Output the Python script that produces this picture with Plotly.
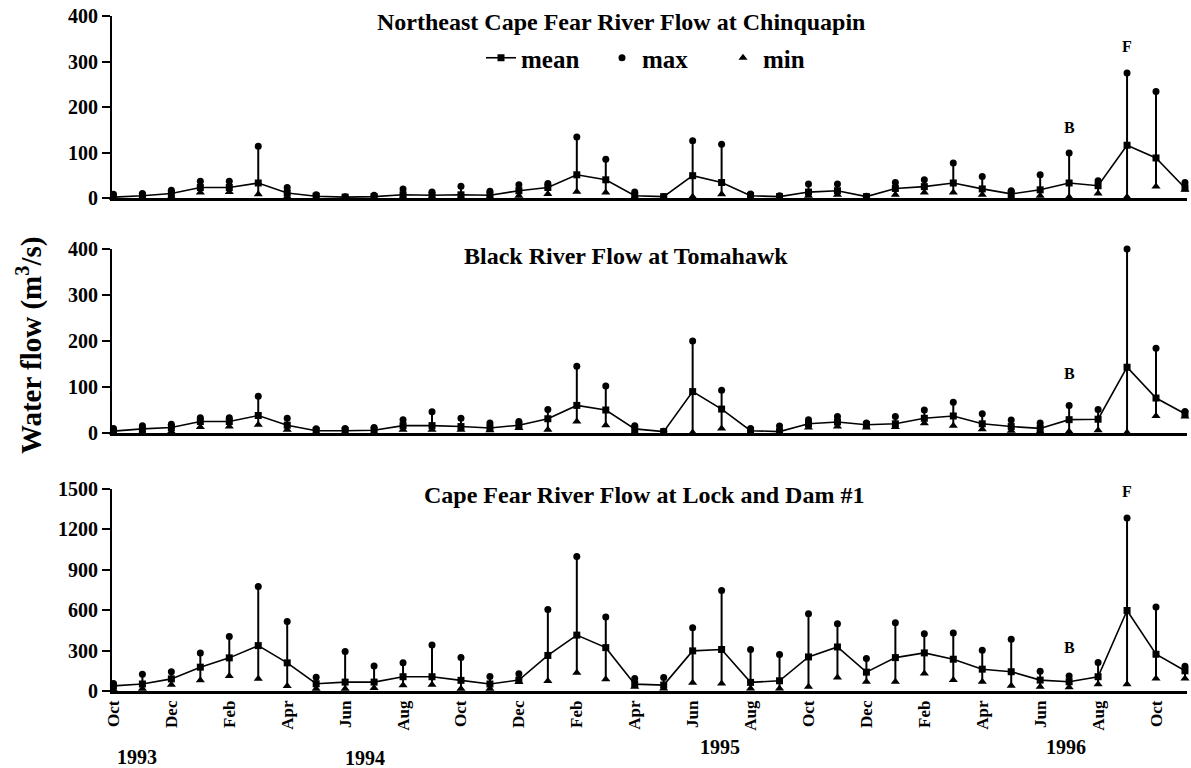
import plotly.graph_objects as go

months = ["Oct 1993", "Nov 1993", "Dec 1993", "Jan 1994", "Feb 1994", "Mar 1994", "Apr 1994",
          "May 1994", "Jun 1994", "Jul 1994", "Aug 1994", "Sep 1994", "Oct 1994", "Nov 1994",
          "Dec 1994", "Jan 1995", "Feb 1995", "Mar 1995", "Apr 1995", "May 1995", "Jun 1995",
          "Jul 1995", "Aug 1995", "Sep 1995", "Oct 1995", "Nov 1995", "Dec 1995", "Jan 1996",
          "Feb 1996", "Mar 1996", "Apr 1996", "May 1996", "Jun 1996", "Jul 1996", "Aug 1996",
          "Sep 1996", "Oct 1996", "Nov 1996"]

# Northeast Cape Fear River at Chinquapin (m3/s)
ne_mean = [2, 5, 10, 23, 23, 33, 11, 4, 2, 3, 7, 6, 7, 6, 16, 23, 51, 40, 5, 3, 49, 34, 5, 3,
           13, 16, 3, 21, 25, 33, 20, 9, 18, 33, 27, 116, 88, 22]
ne_max = [8, 10, 17, 37, 37, 114, 23, 7, 3, 6, 20, 13, 26, 15, 29, 32, 134, 85, 13, 3, 126, 118, 9, 5,
          31, 31, 4, 34, 40, 77, 47, 16, 51, 99, 38, 275, 234, 34]
ne_min = [0.5, 1, 3, 12, 13, 8, 3, 1, 1, 1, 2, 2, 2, 2, 5, 9, 14, 12, 2, 1, 3, 8, 1, 1,
          5, 7, 1, 7, 12, 12, 7, 2, 5, 2, 10, 2, 25, 18]

# Black River at Tomahawk (m3/s)
bl_mean = [4, 9, 12, 25, 25, 38, 17, 5, 5, 6, 16, 16, 14, 11, 17, 31, 60, 50, 9, 3, 90, 52, 5, 3,
           20, 24, 18, 20, 32, 37, 20, 14, 10, 29, 30, 143, 76, 42]
bl_max = [10, 16, 19, 33, 33, 80, 32, 9, 10, 12, 29, 46, 32, 22, 25, 51, 145, 102, 16, 4, 200, 93, 10, 15,
          29, 36, 22, 36, 50, 67, 42, 28, 22, 60, 51, 400, 184, 47]
bl_min = [1, 2, 3, 13, 14, 18, 7, 1, 1, 1, 7, 7, 7, 6, 11, 7, 25, 17, 2, 1, 1, 10, 1, 1,
          12, 14, 12, 13, 21, 16, 8, 5, 3, 3, 6, 1, 37, 36]

# Cape Fear River at Lock and Dam #1 (m3/s)
cf_mean = [38, 52, 90, 177, 246, 337, 209, 54, 66, 66, 106, 106, 79, 52, 81, 264, 415, 322, 51, 44,
           298, 308, 64, 76, 253, 327, 140, 248, 283, 236, 162, 143, 81, 69, 106, 598, 273, 150]
cf_max = [55, 125, 143, 283, 404, 776, 517, 103, 293, 185, 209, 342, 248, 108, 128, 605, 998, 549, 93, 101,
          470, 746, 308, 271, 574, 500, 241, 507, 426, 431, 303, 384, 147, 111, 212, 1285, 623, 184]
cf_min = [12, 17, 47, 79, 111, 91, 37, 17, 17, 22, 42, 47, 17, 17, 66, 74, 135, 88, 32, 19,
          61, 56, 19, 19, 32, 101, 69, 69, 130, 81, 69, 39, 32, 27, 51, 51, 93, 93]

titles = ["Northeast Cape Fear River Flow at Chinquapin",
          "Black River Flow at Tomahawk",
          "Cape Fear River Flow at Lock and Dam #1"]
y_ranges = [[0, 400], [0, 400], [0, 1500]]
y_ticks = [[0, 100, 200, 300, 400], [0, 100, 200, 300, 400], [0, 300, 600, 900, 1200, 1500]]
year_labels = ["1993", "1994", "1995", "1996"]

W, H = 1191, 768
FONT = "Liberation Serif"


def py(px):
    return 1 - px / H


def px_x(px):
    return px / W


series = [(ne_mean, ne_max, ne_min), (bl_mean, bl_max, bl_min), (cf_mean, cf_max, cf_min)]
# pixel positions: (top of range, zero line)
panel_px = [(16, 198), (249, 433), (489, 691)]

fig = go.Figure()
for i, (mean, mx, mn) in enumerate(series):
    xa = "x" if i == 0 else f"x{i+1}"
    ya = "y" if i == 0 else f"y{i+1}"
    fig.add_trace(go.Scatter(
        x=months, y=mean, xaxis=xa, yaxis=ya, name="mean", mode="lines+markers",
        line=dict(color="black", width=1.6),
        marker=dict(symbol="square", size=7, color="black"),
        error_y=dict(type="data", symmetric=False,
                     array=[a - b for a, b in zip(mx, mean)],
                     arrayminus=[b - c for b, c in zip(mean, mn)],
                     color="black", thickness=2, width=0),
        cliponaxis=False, showlegend=(i == 0), legendrank=1))
    fig.add_trace(go.Scatter(
        x=months, y=mx, xaxis=xa, yaxis=ya, name="max", mode="markers",
        marker=dict(symbol="circle", size=7, color="black"),
        cliponaxis=False, showlegend=(i == 0), legendrank=2))
    fig.add_trace(go.Scatter(
        x=months, y=mn, xaxis=xa, yaxis=ya, name="min", mode="markers",
        marker=dict(symbol="triangle-up", size=8, color="black"),
        cliponaxis=False, showlegend=(i == 0), legendrank=3))

x_dom = [px_x(112), px_x(1187)]
x_range = [-0.05, 37.07]
tick_vals = months[::2]
tick_text = [m[:3] for m in tick_vals]

layout = dict(
    width=W, height=H, margin=dict(l=0, r=0, t=0, b=0),
    paper_bgcolor="white", plot_bgcolor="white",
    font=dict(family=FONT, color="black", size=18, weight="bold"),
    showlegend=True,
    legend=dict(orientation="h", x=px_x(481), y=py(58), xanchor="left", yanchor="middle",
                font=dict(family=FONT, size=25, weight="bold", color="black"),
                bgcolor="rgba(0,0,0,0)", itemwidth=30, tracegroupgap=0,
                entrywidth=76, entrywidthmode="pixels"),
)

for i in range(3):
    top, zero = panel_px[i]
    xk = "xaxis" if i == 0 else f"xaxis{i+1}"
    yk = "yaxis" if i == 0 else f"yaxis{i+1}"
    ya = "y" if i == 0 else f"y{i+1}"
    xa = "x" if i == 0 else f"x{i+1}"
    xax = dict(domain=x_dom, range=x_range, anchor=ya, type="category",
               showline=True, linecolor="black", linewidth=2.5, showgrid=False,
               zeroline=False, ticks="", automargin=False,
               categoryorder="array", categoryarray=months)
    if i == 2:
        xax.update(tickvals=tick_vals, ticktext=tick_text, tickangle=-90,
                   tickfont=dict(family=FONT, size=17, weight="bold", color="black"),
                   showticklabels=True)
    else:
        xax.update(showticklabels=False, matches="x3")
    layout[xk] = xax
    layout[yk] = dict(domain=[py(zero), py(top)], range=y_ranges[i], anchor=xa,
                      tickvals=y_ticks[i], showline=True, linecolor="black", linewidth=2,
                      ticks="outside", ticklen=8, tickwidth=2, tickcolor="black",
                      showgrid=False, zeroline=False, automargin=False,
                      tickfont=dict(family=FONT, size=20, weight="bold", color="black"))

fig.update_layout(**layout)

annotations = []
title_pos = [(621, 22), (626, 256), (644, 495)]
for t, (cx, cy) in zip(titles, title_pos):
    annotations.append(dict(text=t, xref="paper", yref="paper", x=px_x(cx), y=py(cy),
                            xanchor="center", yanchor="middle", showarrow=False,
                            font=dict(family=FONT, size=24, weight="bold", color="black")))

# B and F event markers (x = month, y in data units)
events = [("x", "y", "B", "Jul 1996", 156), ("x", "y", "F", "Sep 1996", 332),
          ("x2", "y2", "B", "Jul 1996", 130), ("x2", "y2", "F", "Sep 1996", 432),
          ("x3", "y3", "B", "Jul 1996", 320), ("x3", "y3", "F", "Sep 1996", 1485)]
for xr, yr, txt, xm, yv in events:
    annotations.append(dict(text=txt, xref=xr, yref=yr, x=xm, y=yv, showarrow=False,
                            xanchor="center", yanchor="middle",
                            font=dict(family=FONT, size=16, weight="bold", color="black")))

annotations.append(dict(text="Water flow (m<sup>3</sup>/s)", xref="paper", yref="paper",
                        x=px_x(30), y=py(346), textangle=-90, showarrow=False,
                        xanchor="center", yanchor="middle",
                        font=dict(family=FONT, size=29, weight="bold", color="black")))

year_pos = [(137, 757), (365, 758), (720, 747), (1066, 747)]
for yl, (cx, cy) in zip(year_labels, year_pos):
    annotations.append(dict(text=yl, xref="paper", yref="paper", x=px_x(cx), y=py(cy),
                            xanchor="center", yanchor="middle", showarrow=False,
                            font=dict(family=FONT, size=20, weight="bold", color="black")))

fig.update_layout(annotations=annotations)
fig.write_html("out.html")
